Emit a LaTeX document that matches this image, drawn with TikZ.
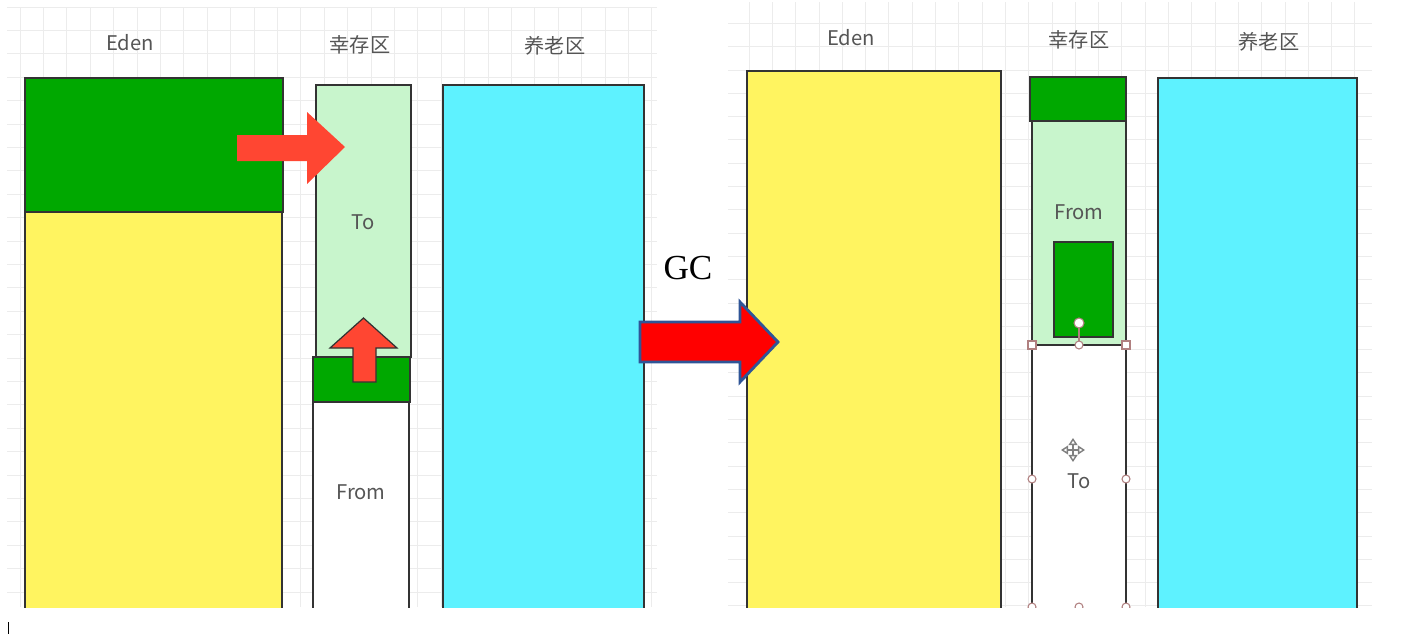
\documentclass[tikz,border=0pt]{standalone}
\usepackage{fontspec}
\newfontfamily\cjk{Noto Sans CJK SC}
\newfontfamily\gcfont{Liberation Serif}
\usetikzlibrary{arrows.meta}

\definecolor{edengreen}{RGB}{0,168,0}
\definecolor{edenyellow}{RGB}{255,244,96}
\definecolor{survgreen}{RGB}{200,245,204}
\definecolor{oldcyan}{RGB}{94,242,255}
\definecolor{movered}{RGB}{255,70,50}
\definecolor{gcblue}{RGB}{47,85,151}
\definecolor{boxline}{RGB}{51,51,51}
\definecolor{textgray}{RGB}{85,85,85}
\definecolor{gridgray}{RGB}{236,236,236}
\definecolor{gripred}{RGB}{176,128,128}

\begin{document}
\begin{tikzpicture}[
    x=0.02cm, y=-0.02cm,
    region/.style={draw=boxline, line width=1.1pt},
    areatext/.style={font=\cjk\fontsize{11.5}{14}\selectfont, text=textgray},
    grip/.style={draw=gripred, fill=white, line width=0.6pt}
]
\useasboundingbox (0,0) rectangle (1407,636);

% Background grids
\foreach \x in {20,43.4,...,657} {
    \draw[gridgray] (\x,7) -- (\x,607);
}
\foreach \y in {7,30.4,...,607} {
    \draw[gridgray] (7,\y) -- (657,\y);
}
\foreach \x in {749,772.3,...,1372} {
    \draw[gridgray] (\x,2) -- (\x,607);
}
\foreach \y in {23.3,46.6,...,607} {
    \draw[gridgray] (728,\y) -- (1372,\y);
}

\begin{scope}
\clip (0,0) rectangle (1407,607);

% Before GC
\draw[region, fill=edenyellow] (25,212) rectangle (282,615);
\draw[region, fill=edengreen] (25,78) rectangle (283,212);
\draw[region, fill=survgreen] (316,85) rectangle (411,357);
\draw[region, fill=white] (313,402) rectangle (409,615);
\draw[region, fill=edengreen] (313,357) rectangle (410,402);
\draw[region, fill=oldcyan] (443,85) rectangle (644,615);

% After GC
\draw[region, fill=edenyellow] (747,71) rectangle (1001,615);
\draw[region, fill=survgreen] (1032,121) rectangle (1126,345);
\draw[region, fill=edengreen] (1030,77) rectangle (1126,121);
\draw[region, fill=edengreen] (1054,242) rectangle (1113,337);
\draw[region, fill=white] (1032,345) rectangle (1126,615);
\draw[region, fill=oldcyan] (1158,78) rectangle (1357,615);

% Selection handles
\draw[gripred, line width=0.6pt] (1079,345) -- (1079,323);
\draw[grip] (1079,323) circle[radius=5];
\draw[grip] (1028,341) rectangle (1036,349);
\draw[grip] (1122,341) rectangle (1130,349);
\foreach \p in {(1079,345),(1032,479),(1126,479),(1032,607),(1079,607),(1126,607)} {
    \draw[grip] \p circle[radius=4];
}
\end{scope}

% Copy arrows
\fill[movered] (237,135) -- (307,135) -- (307,112) -- (345,147) -- (307,184)
    -- (307,161) -- (237,161) -- cycle;
\draw[boxline, line width=0.7pt, fill=movered] (353,382) -- (353,348) -- (330,348)
    -- (363.5,318) -- (397,348) -- (376,348) -- (376,382) -- cycle;

% GC arrow
\draw[gcblue, line width=1.6pt, fill=red] (640,322) -- (740,322) -- (740,302)
    -- (778,342) -- (740,382) -- (740,362) -- (640,362) -- cycle;
\node[font=\gcfont\fontsize{20}{24}\selectfont] (gc) at (688,268) {GC};

% Move cursor
\draw[gray, line width=0.8pt, {Triangle[open,length=4pt,width=5pt]}-{Triangle[open,length=4pt,width=5pt]}]
    (1061,450) -- (1085,450);
\draw[gray, line width=0.8pt, {Triangle[open,length=4pt,width=5pt]}-{Triangle[open,length=4pt,width=5pt]}]
    (1073,438) -- (1073,462);

% Labels
\node[areatext] (eden1) at (130,43) {Eden};
\node[areatext] (surv1) at (360,45) {幸存区};
\node[areatext] (old1) at (555,46) {养老区};
\node[areatext] (to1) at (363,222) {To};
\node[areatext] (from1) at (361,492) {From};

\node[areatext] (eden2) at (851,38) {Eden};
\node[areatext] (surv2) at (1079,40) {幸存区};
\node[areatext] (old2) at (1269,42) {养老区};
\node[areatext] (from2) at (1079,212) {From};
\node[areatext] (to2) at (1079,481) {To};

% Text cursor
\draw[black, line width=0.5pt] (8,622) -- (8,634);

\end{tikzpicture}
\end{document}
